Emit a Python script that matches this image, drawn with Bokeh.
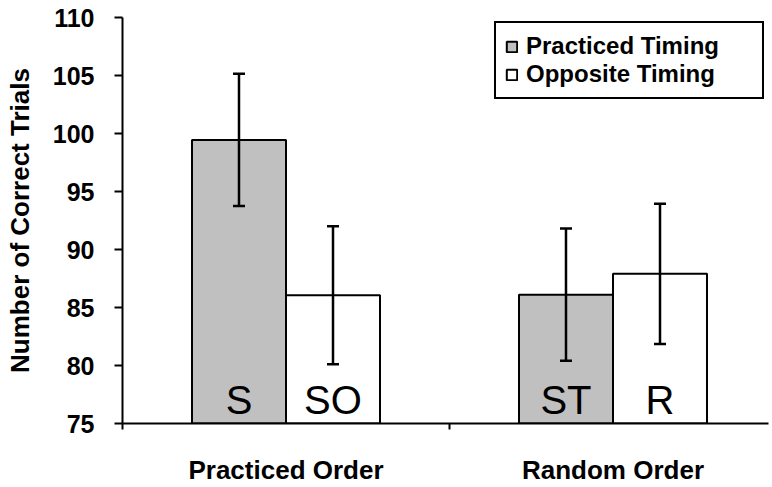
from bokeh.plotting import figure
from bokeh.models import (ColumnDataSource, FixedTicker, Whisker, TeeHead,
                          Legend, LegendItem, Range1d, CDSView, IndexFilter)
from bokeh.core.properties import value
from bokeh.embed import file_html
from bokeh.resources import INLINE

# ---- data ----
groups = ["Practiced Order", "Random Order"]
conditions = ["S", "SO", "ST", "R"]
timing = ["Practiced Timing", "Opposite Timing", "Practiced Timing", "Opposite Timing"]
means = [99.45, 86.05, 86.1, 87.9]
errors = [5.7, 5.95, 5.7, 6.05]
y_ticks = [75, 80, 85, 90, 95, 100, 105, 110]

FONT = "Liberation Sans"
BW = 0.2875  # bar width in category units

centers = [i + 0.5 for i in range(len(groups))]
xs = []
for gi in range(len(groups)):
    xs.append(centers[gi] - BW / 2)
    xs.append(centers[gi] + BW / 2)

src = ColumnDataSource(dict(
    x=xs, top=means, cond=conditions, timing=timing,
    upper=[m + e for m, e in zip(means, errors)],
    lower=[m - e for m, e in zip(means, errors)],
    label_y=[77.0] * len(means),
))
idx_p = [i for i, t in enumerate(timing) if t == "Practiced Timing"]
idx_o = [i for i, t in enumerate(timing) if t == "Opposite Timing"]

p = figure(width=772, height=487, output_backend="svg", toolbar_location=None,
           x_range=Range1d(0, 646 / 327), y_range=Range1d(75, 110),
           min_border_left=122, min_border_top=17, min_border_bottom=61,
           min_border_right=4)
p.outline_line_color = None
p.xgrid.grid_line_color = None
p.ygrid.grid_line_color = None
p.background_fill_color = "white"
p.border_fill_color = "white"

r_p = p.vbar(x="x", top="top", bottom=75, width=BW, source=src,
             view=CDSView(filter=IndexFilter(idx_p)),
             fill_color="#c0c0c0", line_color="black", line_width=2)
r_o = p.vbar(x="x", top="top", bottom=75, width=BW, source=src,
             view=CDSView(filter=IndexFilter(idx_o)),
             fill_color="white", line_color="black", line_width=2)

p.text(x="x", y="label_y", text="cond", source=src, text_align="center",
       text_baseline="alphabetic", text_font=value(FONT),
       text_font_size="40px", text_color="black")

w = Whisker(base="x", upper="upper", lower="lower", source=src,
            line_color="black", line_width=2.5, level="overlay",
            upper_head=TeeHead(size=12, line_width=2.5, line_color="black"),
            lower_head=TeeHead(size=12, line_width=2.5, line_color="black"))
p.add_layout(w)

# y axis
ya = p.yaxis[0]
ya.ticker = FixedTicker(ticks=y_ticks)
ya.axis_label = "Number of Correct Trials"
ya.axis_label_text_font = FONT
ya.axis_label_text_font_style = "bold"
ya.axis_label_text_font_size = "26px"
ya.axis_label_text_color = "black"
ya.axis_label_standoff = 15
ya.major_label_text_font = FONT
ya.major_label_text_font_style = "bold"
ya.major_label_text_font_size = "25px"
ya.major_label_text_color = "black"
ya.major_label_standoff = 20
ya.axis_line_width = 2
ya.axis_line_color = "black"
ya.major_tick_line_width = 2
ya.major_tick_line_color = "black"
ya.major_tick_out = 8
ya.major_tick_in = 0
ya.minor_tick_line_color = None

# x axis
xa = p.xaxis[0]
xa.ticker = FixedTicker(ticks=centers, minor_ticks=[0, 1, 2])
xa.major_label_overrides = {c: g for c, g in zip(centers, groups)}
xa.major_label_text_font = FONT
xa.major_label_text_font_style = "bold"
xa.major_label_text_font_size = "26px"
xa.major_label_text_color = "black"
xa.major_label_standoff = 25
xa.major_tick_line_color = None
xa.major_tick_out = 6
xa.major_tick_in = 0
xa.minor_tick_out = 6
xa.minor_tick_in = 0
xa.minor_tick_line_width = 2
xa.minor_tick_line_color = "black"
xa.axis_line_width = 2
xa.axis_line_color = "black"

legend = Legend(items=[LegendItem(label="Practiced Timing", renderers=[r_p]),
                       LegendItem(label="Opposite Timing", renderers=[r_o])],
                location="top_right")
legend.margin = 4
legend.padding = 9
legend.spacing = 0
legend.glyph_width = 13
legend.glyph_height = 13
legend.label_standoff = 8
legend.label_width = 227
legend.label_text_font = FONT
legend.label_text_font_style = "bold"
legend.label_text_font_size = "24px"
legend.label_text_color = "black"
legend.border_line_color = "black"
legend.border_line_width = 2
legend.border_line_alpha = 1
legend.background_fill_alpha = 1
p.add_layout(legend)

open("out.html", "w").write(file_html(p, INLINE))
